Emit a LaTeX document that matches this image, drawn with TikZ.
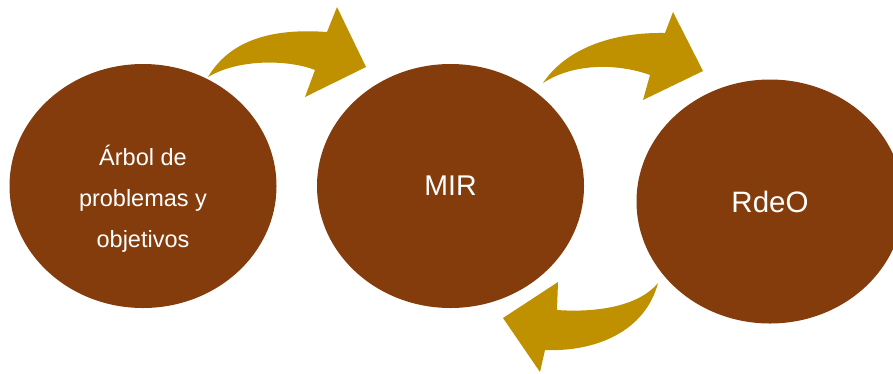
\documentclass[tikz,border=0pt]{standalone}
\usepackage{fontspec}
\usepackage{tikz}
\setmainfont{Liberation Sans}
\usetikzlibrary{shapes.geometric}
\usetikzlibrary{positioning}
\definecolor{cafe}{HTML}{843C0C}
\definecolor{dorado}{HTML}{BF9000}
\tikzset{burbuja/.style = {ellipse, fill=cafe, draw=none, text=white,
                           minimum width=267pt, minimum height=244pt,
                           inner sep=0pt, align=center},
         flecha/.style  = {fill=dorado, draw=none}}

\begin{document}
\begin{tikzpicture}[x=1pt, y=-1pt]
    \useasboundingbox (0, 0) rectangle (893, 373);

    \node [burbuja] (arbol) at (143, 186) {};
    \node [text=white, align=center, font=\fontsize{23.5}{41}\selectfont]
      (arboltxt) at ([yshift=-13pt]arbol.center) {Árbol de\\problemas y\\objetivos};
    \node [burbuja, font=\fontsize{28.5}{34}\selectfont] (mir) at (450.5, 186) {MIR};
    \node [burbuja, font=\fontsize{29.5}{35}\selectfont] (rdeo) at (770, 201.5) {RdeO};

    \fill [flecha] (208, 77) .. controls (230, 40) and (272, 28) .. (327, 32)
      -- (337, 7) -- (366, 67) -- (305, 97) -- (315, 70)
      .. controls (290, 60) and (240, 58) .. (208, 77) -- cycle;
    \fill [flecha] (543, 83) .. controls (565, 50) and (610, 32) .. (665, 33)
      -- (673, 12) -- (703, 71) -- (643, 100) -- (650, 75)
      .. controls (620, 64) and (575, 62) .. (543, 83) -- cycle;
    \fill [flecha] (658, 283) .. controls (640, 305) and (600, 313) .. (557, 310)
      -- (558, 282) -- (503, 318) -- (540, 372) -- (545, 350)
      .. controls (595, 352) and (645, 332) .. (658, 283) -- cycle;
\end{tikzpicture}
\end{document}
